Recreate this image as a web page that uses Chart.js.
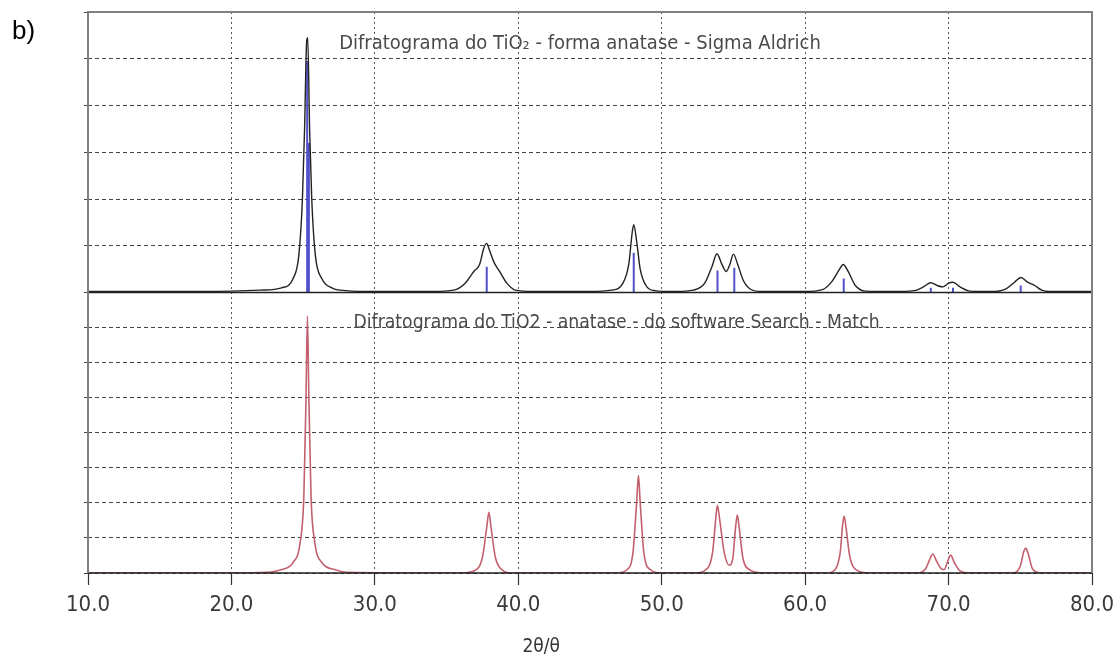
<!DOCTYPE html>
<html>
<head>
<meta charset="utf-8">
<script src="https://cdn.jsdelivr.net/npm/chart.js@4.4.0/dist/chart.umd.min.js"></script>
<style>
  body { margin: 0; background: #fff; }
  #wrap { position: relative; width: 1116px; height: 662px; }
</style>
</head>
<body>
<div id="wrap"><canvas id="grafico"></canvas></div>
<script>
// difratograma medido (Sigma Aldrich) - 2theta / intensidade (unidades de grade)
const topTheta = [10, 15, 20, 22, 23.5, 24.3, 24.7, 24.95, 25.1, 25.25, 25.32, 25.45, 25.6, 25.85, 26.3, 27, 28, 30,
  34, 35.5, 36.3, 36.9, 37.3, 37.6, 37.8, 38.0, 38.3, 38.7, 39.2, 39.8, 41,
  45, 46.5, 47.3, 47.7, 47.95, 48.05, 48.25, 48.5, 48.9, 49.5, 51,
  52.2, 53.0, 53.5, 53.85, 54.2, 54.5, 54.75, 55.0, 55.3, 55.7, 56.2, 57,
  60, 61.2, 61.9, 62.4, 62.65, 63.0, 63.5, 64.2, 66,
  67.6, 68.3, 68.75, 69.2, 69.6, 70.0, 70.3, 70.8, 71.5, 73,
  74.0, 74.6, 75.05, 75.5, 76.0, 76.5, 77, 80];
const topIntensity = [0.02, 0.02, 0.03, 0.05, 0.1, 0.3, 0.8, 2.0, 3.5, 5.4, 5.45, 3.5, 2.0, 0.8, 0.3, 0.1, 0.04, 0.02,
  0.02, 0.05, 0.2, 0.45, 0.6, 0.95, 1.05, 0.9, 0.65, 0.45, 0.2, 0.05, 0.02,
  0.02, 0.05, 0.2, 0.6, 1.3, 1.45, 1.1, 0.5, 0.15, 0.04, 0.02,
  0.05, 0.2, 0.55, 0.83, 0.6, 0.45, 0.6, 0.82, 0.6, 0.25, 0.07, 0.02,
  0.02, 0.06, 0.25, 0.5, 0.6, 0.45, 0.15, 0.03, 0.02,
  0.04, 0.13, 0.21, 0.15, 0.12, 0.2, 0.22, 0.12, 0.03, 0.02,
  0.08, 0.22, 0.32, 0.22, 0.15, 0.05, 0.02, 0.02];

// linhas de referencia (azul)
const stickTheta = [25.28, 25.4, 37.8, 48.05, 53.89, 55.06, 62.69, 68.76, 70.31, 75.03];
const stickHeight = [4.95, 3.2, 0.55, 0.85, 0.47, 0.53, 0.3, 0.1, 0.1, 0.15];

// padrao do software Search - Match
const botTheta = [10, 20, 22.5, 23.5, 24.3, 24.8, 25.05, 25.2, 25.3, 25.4, 25.55, 25.8, 26.3, 27.2, 28,
  36, 37.0, 37.5, 37.8, 37.95, 38.1, 38.4, 38.9, 39.5,
  46.8, 47.6, 48.0, 48.25, 48.38, 48.5, 48.75, 49.2, 50,
  52.3, 53.1, 53.55, 53.78, 53.88, 54.05, 54.35, 54.7, 54.95, 55.15, 55.27, 55.4, 55.65, 56.1, 57,
  61.5, 62.1, 62.45, 62.62, 62.72, 62.85, 63.1, 63.6, 64.5,
  67.8, 68.4, 68.7, 68.9, 69.15, 69.5, 69.7, 69.95, 70.15, 70.4, 70.8, 71.5,
  74.5, 75.0, 75.25, 75.38, 75.55, 75.85, 76.4, 80];
const botIntensity = [0, 0, 0.02, 0.1, 0.3, 0.9, 2.2, 5, 7.33, 5, 2.2, 0.9, 0.3, 0.1, 0.02,
  0, 0.08, 0.45, 1.3, 1.73, 1.3, 0.45, 0.08, 0,
  0, 0.1, 0.6, 2.0, 2.78, 2.0, 0.6, 0.1, 0,
  0, 0.1, 0.6, 1.6, 1.93, 1.5, 0.6, 0.22, 0.4, 1.3, 1.65, 1.3, 0.45, 0.1, 0,
  0, 0.1, 0.6, 1.4, 1.62, 1.3, 0.5, 0.08, 0,
  0, 0.12, 0.4, 0.54, 0.35, 0.12, 0.1, 0.35, 0.51, 0.3, 0.06, 0,
  0, 0.2, 0.62, 0.71, 0.55, 0.12, 0, 0];

const tituloTopo = "Difratograma do TiO\u2082 - forma anatase - Sigma Aldrich";
const tituloBase = "Difratograma do TiO2 - anatase - do software Search - Match";
const tituloX = "2\u03b8/\u03b8";

function pontos(xs, ys) {
  return xs.map((x, i) => ({ x: x, y: ys[i] }));
}

let dadosSticks = [];
stickTheta.forEach((t, i) => {
  dadosSticks.push({ x: t, y: 0 });
  dadosSticks.push({ x: t, y: stickHeight[i] });
  dadosSticks.push({ x: t, y: null });
});

const fonte = "'Liberation Sans Narrow', 'DejaVu Sans Condensed', Arial, sans-serif";

const molduraPlugin = {
  id: "moldura",
  afterDraw(chart) {
    const { ctx, chartArea } = chart;
    const yTop = chart.scales.yTop;
    const yBot = chart.scales.yBot;
    const x = chart.scales.x;
    ctx.save();
    // linhas de base
    ctx.strokeStyle = "#222";
    ctx.lineWidth = 1.5;
    ctx.beginPath();
    ctx.moveTo(chartArea.left, yTop.getPixelForValue(0));
    ctx.lineTo(chartArea.right, yTop.getPixelForValue(0));
    ctx.moveTo(chartArea.left, yBot.getPixelForValue(0));
    ctx.lineTo(chartArea.right, yBot.getPixelForValue(0));
    ctx.stroke();
    // moldura
    ctx.strokeStyle = "#808080";
    ctx.lineWidth = 2;
    ctx.beginPath();
    ctx.moveTo(chartArea.left, yBot.getPixelForValue(0));
    ctx.lineTo(chartArea.left, chartArea.top);
    ctx.lineTo(chartArea.right, chartArea.top);
    ctx.lineTo(chartArea.right, yBot.getPixelForValue(0));
    ctx.stroke();
    // titulos internos
    ctx.fillStyle = "#4a4a4a";
    ctx.textAlign = "center";
    ctx.textBaseline = "middle";
    ctx.font = "20px " + fonte;
    ctx.fillText(tituloTopo, x.getPixelForValue(44.3), yTop.getPixelForValue(5.33));
    ctx.font = "19.2px " + fonte;
    ctx.fillText(tituloBase, x.getPixelForValue(46.85), yBot.getPixelForValue(7.13));
    // titulo do eixo x
    ctx.fillStyle = "#333";
    ctx.font = "19px " + fonte;
    ctx.fillText(tituloX, x.getPixelForValue(41.6), 647);
    // rotulo do painel
    ctx.fillStyle = "#000";
    ctx.font = "26px Arial, 'Liberation Sans', sans-serif";
    ctx.textAlign = "left";
    ctx.fillText("b)", 12, 32);
    ctx.restore();
  },
};

const gradeY = {
  color: "#444",
  tickLength: 4,
  tickColor: "#444",
  tickBorderDash: [],
};

const ctx = document.getElementById("grafico").getContext("2d");
new Chart(ctx, {
  type: "line",
  data: {
    datasets: [
      {
        label: "Sigma Aldrich",
        data: pontos(topTheta, topIntensity),
        yAxisID: "yTop",
        borderColor: "#222",
        borderWidth: 1.4,
        pointRadius: 0,
        cubicInterpolationMode: "monotone",
      },
      {
        label: "referencia",
        data: dadosSticks,
        yAxisID: "yTop",
        borderColor: "#5050c8",
        borderWidth: 2,
        pointRadius: 0,
        spanGaps: false,
      },
      {
        label: "Search - Match",
        data: pontos(botTheta, botIntensity),
        yAxisID: "yBot",
        borderColor: "#c4606e",
        borderWidth: 1.6,
        pointRadius: 0,
        cubicInterpolationMode: "monotone",
      },
    ],
  },
  options: {
    responsive: true,
    maintainAspectRatio: false,
    animation: false,
    layout: { padding: { left: 84, right: 24, top: 12, bottom: 0 } },
    plugins: { legend: { display: false }, tooltip: { enabled: false } },
    scales: {
      x: {
        type: "linear",
        min: 10,
        max: 80,
        afterFit(scale) {
          scale.height = 89;
          scale.paddingLeft = 0;
          scale.paddingRight = 0;
        },
        ticks: {
          stepSize: 10,
          padding: 7,
          color: "#3a3a3a",
          font: { family: fonte, size: 22 },
          callback: (v) => v.toFixed(1),
        },
        grid: {
          color: "#555",
          tickLength: 12,
          tickColor: "#333",
          tickBorderDash: [],
          tickWidth: 1.2,
        },
        border: { display: false, dash: [2, 3] },
      },
      yBot: {
        type: "linear",
        position: "left",
        stack: "paineis",
        stackWeight: 1,
        min: 0,
        max: 8,
        afterFit(scale) { scale.width = 4; },
        ticks: { display: false, stepSize: 1 },
        grid: gradeY,
        border: { display: false, dash: [4, 3] },
      },
      yTop: {
        type: "linear",
        position: "left",
        stack: "paineis",
        stackWeight: 1,
        min: 0,
        max: 6,
        afterFit(scale) { scale.width = 4; },
        ticks: { display: false, stepSize: 1 },
        grid: gradeY,
        border: { display: false, dash: [4, 3] },
      },
    },
  },
  plugins: [molduraPlugin],
});
</script>
</body>
</html>
